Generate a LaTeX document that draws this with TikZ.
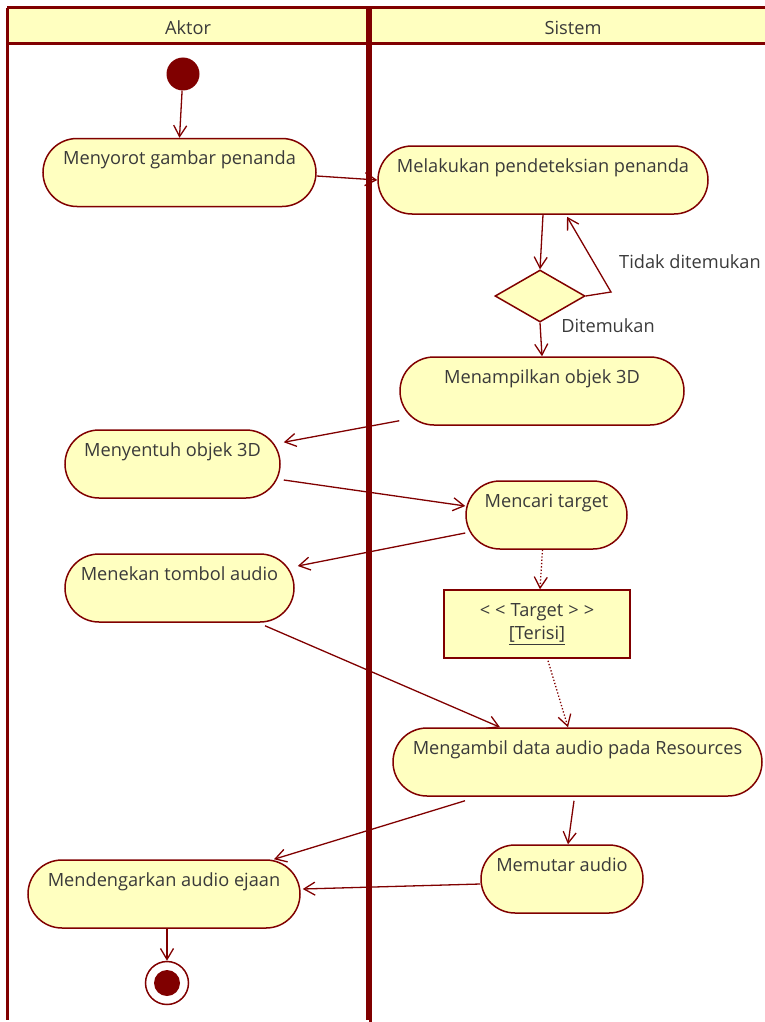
\documentclass[tikz,border=0pt]{standalone}
\usepackage{fontspec}
\setmainfont{Open Sans}
\usetikzlibrary{shapes.geometric,arrows.meta,calc}
\definecolor{dred}{HTML}{800000}
\definecolor{pale}{HTML}{FFFFC0}
\definecolor{txt}{HTML}{3A3A3A}
\tikzset{
  act/.style={draw=dred, line width=1.5pt, fill=pale, rectangle, rounded corners=34pt,
    minimum height=68pt, inner sep=0pt, text height=26pt, text depth=42pt,
    font=\fontsize{18.2}{20}\selectfont, text=txt},
  objbox/.style={draw=dred, line width=1.5pt, fill=pale, rectangle, minimum width=186pt,
    minimum height=68pt, inner sep=0pt, align=center, font=\fontsize{18.2}{23}\selectfont, text=txt},
  dec/.style={draw=dred, line width=1.5pt, fill=pale, diamond, minimum width=90pt,
    minimum height=52pt, inner sep=0pt, aspect=1.73},
  flow/.style={draw=dred, line width=1.3pt, -{Straight Barb[length=11pt,width=13pt,line width=1.3pt]}},
  oflow/.style={flow, dotted},
  lane/.style={draw=dred, line width=3pt},
  lbl/.style={font=\fontsize{18.2}{20}\selectfont, text=txt, inner sep=0pt},
}
\begin{document}
\begin{tikzpicture}[x=1pt,y=-1pt]
\useasboundingbox (0,0) rectangle (765,1022);
% swimlanes
\fill[pale] (7,8) rectangle (765,44);
\draw[lane] (7,8) -- (765,8);
\draw[lane] (7,44) -- (765,44);
\draw[lane] (7,8) -- (7,1020);
\draw[dred, line width=3pt] (367,8) -- (367,1020);
\draw[dred, line width=3pt] (370.5,8) -- (370.5,1022);
\node[lbl] (hA) at (188,28) {Aktor};
\node[lbl] (hS) at (573,28) {Sistem};
% nodes
\node[circle, fill=dred, minimum size=33pt, inner sep=0pt] (ini) at (183,74) {};
\node[act, minimum width=273pt] (a1) at (179.5,172.5) {Menyorot gambar penanda};
\node[act, minimum width=330pt] (a2) at (543,180) {Melakukan pendeteksian penanda};
\node[dec] (dc) at (540,296) {};
\node[act, minimum width=284pt] (a3) at (542,391) {Menampilkan objek 3D};
\node[act, minimum width=215pt] (a4) at (172.5,464) {Menyentuh objek 3D};
\node[act, minimum width=161pt] (a5) at (546.5,515) {Mencari target};
\node[act, minimum width=229pt] (a6) at (179.5,588) {Menekan tombol audio};
\node[objbox] (ob) at (537,624) {<\;<\;Target\;>\;>\\\underline{[Terisi]}};
\node[act, minimum width=369pt] (a7) at (577.5,762) {Mengambil data audio pada Resources};
\node[act, minimum width=272pt] (a8) at (164,894) {Mendengarkan audio ejaan};
\node[act, minimum width=162pt] (a9) at (562,879) {Memutar audio};
\node[circle, draw=dred, line width=1.5pt, minimum size=43pt, inner sep=0pt] (fin) at (167,983) {};
\fill[dred] (fin.center) circle (13pt);
\node[lbl] (l1) at (690,262) {Tidak ditemukan};
\node[lbl] (l2) at (608,326) {Ditemukan};
\coordinate (c1) at (611,292);
% edges
\draw[flow] (ini) -- (a1.north);
\draw[flow] ($(a1.east)+(0,3.5)$) -- (a2.west);
\draw[flow] (a2.south) -- (dc.north);
\draw[flow] (dc.east) -- (c1) -- ($(a2.south)+(24,2)$);
\draw[flow] (dc.south) -- (a3.north);
\draw[flow] ($(a3.south west)+(0,-5)$) -- ($(a4.north east)+(3,13)$);
\draw[flow] ($(a4.east)+(3,16)$) -- ($(a5.west)+(0,-9)$);
\draw[flow] ($(a5.west)+(0,18)$) -- ($(a6.east)+(3,-22)$);
\draw[oflow] ($(a5.south)+(-4,0)$) -- ($(ob.north)+(3,0)$);
\draw[flow] ($(a6.south)+(85.5,3)$) -- ($(a7.north)+(-77.5,0)$);
\draw[oflow] ($(ob.south)+(11,2)$) -- ($(a7.north)+(-9.5,0)$);
\draw[flow] ($(a7.south)+(-112.5,4)$) -- ($(a8.north)+(110,0)$);
\draw[flow] ($(a7.south)+(-3.5,4)$) -- ($(a9.north)+(6,0)$);
\draw[flow] ($(a9.west)+(0,5)$) -- ($(a8.east)+(2,-5)$);
\draw[flow] ($(a8.south)+(3,0)$) -- (fin.north);
\end{tikzpicture}
\end{document}
